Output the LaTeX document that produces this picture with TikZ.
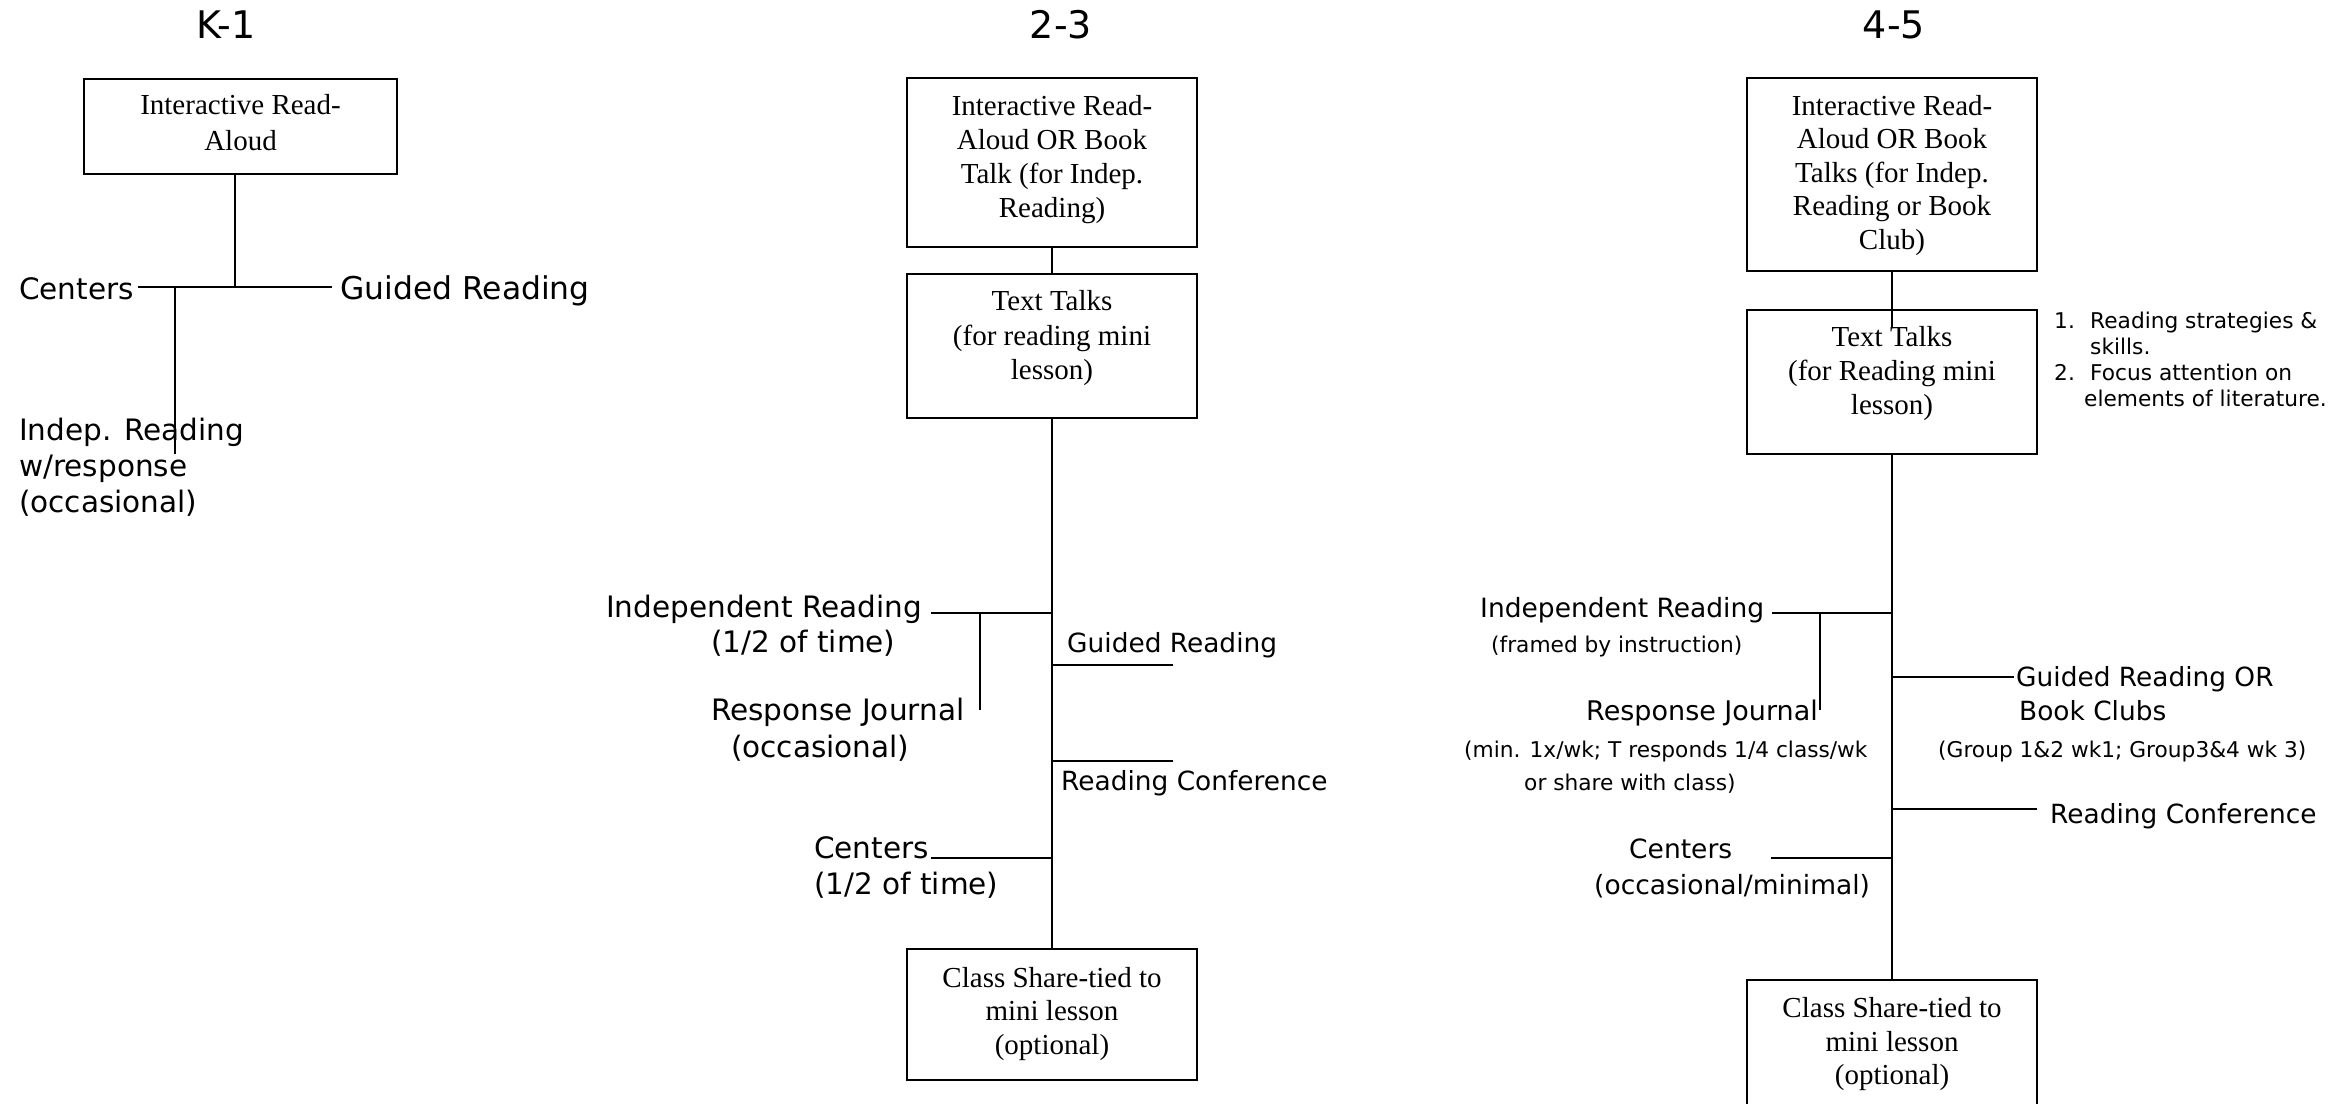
\documentclass[tikz,border=0pt]{standalone}
\usepackage{fontspec}
\setmainfont{DejaVu Sans}
\newfontfamily\tmsfont{Liberation Serif}
\begin{document}
\begin{tikzpicture}[x=1pt,y=-1pt,
  ttl/.style={font=\fontsize{38}{44}\selectfont, anchor=base, inner sep=0pt},
  btx/.style={font=\tmsfont\fontsize{29}{34}\selectfont, anchor=base, inner sep=0pt},
  lbA/.style={font=\fontsize{29.5}{35}\selectfont, anchor=base west, inner sep=0pt},
  lbG/.style={font=\fontsize{31.4}{37}\selectfont, anchor=base west, inner sep=0pt},
  lbB/.style={font=\fontsize{26.5}{31}\selectfont, anchor=base west, inner sep=0pt},
  lbS/.style={font=\fontsize{21.7}{26}\selectfont, anchor=base west, inner sep=0pt},
  boxst/.style={draw, line width=2.2pt, inner sep=0pt, outer sep=0pt},
  ln/.style={line width=2pt}]
\useasboundingbox (0,0) rectangle (2347,1103);
\clip (0,0) rectangle (2347,1103);

% ---------------- K-1 ----------------
\node[ttl] (k1title) at (226,38) {K-1};
\node[boxst, minimum width=313pt, minimum height=95pt] (k1box) at (240.5,126.5) {};
\node[btx] (k1t1) at (240.5,114) {Interactive Read-};
\node[btx] (k1t2) at (240.5,150) {Aloud};
\node[lbA] (k1cen) at (19,299) {Centers};
\node[lbG] (k1gr) at (340,299) {Guided Reading};
\node[lbA] (k1ir1) at (19,440) {Indep. Reading};
\node[lbA] (k1ir2) at (19,476) {w/response};
\node[lbA] (k1ir3) at (19,512) {(occasional)};
\coordinate (k1j) at (235,287);
\coordinate (k1l) at (138,287);
\coordinate (k1r) at (332,287);
\coordinate (k1dj) at (175,287);
\coordinate (k1d) at (175,454);
\draw[ln] (k1box.south -| k1j) -- (k1j);
\draw[ln] (k1l) -- (k1r);
\draw[ln] (k1dj) -- (k1d);

% ---------------- 2-3 ----------------
\node[ttl] (m1title) at (1061,38) {2-3};
\node[boxst, minimum width=290pt, minimum height=169pt] (m1box) at (1052,162.5) {};
\node[btx] (m1a) at (1052,115) {Interactive Read-};
\node[btx] (m1b) at (1052,149) {Aloud OR Book};
\node[btx] (m1c) at (1052,183) {Talk (for Indep.};
\node[btx] (m1d) at (1052,217) {Reading)};
\node[boxst, minimum width=290pt, minimum height=144pt] (m2box) at (1052,346) {};
\node[btx] (m2a) at (1052,310) {Text Talks};
\node[btx] (m2b) at (1052,345) {(for reading mini};
\node[btx] (m2c) at (1052,379) {lesson)};
\node[boxst, minimum width=290pt, minimum height=131pt] (m3box) at (1052,1014.5) {};
\node[btx] (m3a) at (1052,987) {Class Share-tied to};
\node[btx] (m3b) at (1052,1020) {mini lesson};
\node[btx] (m3c) at (1052,1054) {(optional)};
\draw[ln] (m1box.south) -- (m2box.north);
\draw[ln] (m2box.south) -- (m3box.north);

\node[lbA] (m1ir) at (606,617) {Independent Reading};
\node[lbA] (m1irb) at (711,652) {(1/2 of time)};
\node[lbA] (m1rj) at (711,720) {Response Journal};
\node[lbA] (m1rjb) at (731,757) {(occasional)};
\coordinate (m1irl) at (931,613);
\coordinate (m1irr) at (1052,613);
\coordinate (m1rjt) at (980,613);
\coordinate (m1rjd) at (980,710);
\draw[ln] (m1irl) -- (m1irr);
\draw[ln] (m1rjt) -- (m1rjd);

\node[lbB, font=\fontsize{26.4}{31}\selectfont] (m1gr) at (1067,652) {Guided Reading};
\coordinate (m1grl) at (1052,665);
\coordinate (m1grr) at (1173,665);
\draw[ln] (m1grl) -- (m1grr);
\node[lbB, font=\fontsize{26.4}{31}\selectfont] (m1rc) at (1061,790) {Reading Conference};
\coordinate (m1rcl) at (1052,761);
\coordinate (m1rcr) at (1173,761);
\draw[ln] (m1rcl) -- (m1rcr);

\node[lbA] (m1cen) at (814,858) {Centers};
\node[lbA] (m1cenb) at (814,894) {(1/2 of time)};
\coordinate (m1cl) at (931,858);
\coordinate (m1cr) at (1052,858);
\draw[ln] (m1cl) -- (m1cr);

% ---------------- 4-5 ----------------
\node[ttl] (r1title) at (1894,38) {4-5};
\node[boxst, minimum width=290pt, minimum height=193pt] (r1box) at (1892,174.5) {};
\node[btx] (r1a) at (1892,115) {Interactive Read-};
\node[btx] (r1b) at (1892,148.5) {Aloud OR Book};
\node[btx] (r1c) at (1892,182) {Talks (for Indep.};
\node[btx] (r1d) at (1892,215.5) {Reading or Book};
\node[btx] (r1e) at (1892,249) {Club)};
\node[boxst, minimum width=290pt, minimum height=144pt] (r2box) at (1892,382) {};
\node[btx] (r2a) at (1892,346) {Text Talks};
\node[btx] (r2b) at (1892,380) {(for Reading mini};
\node[btx] (r2c) at (1892,414) {lesson)};
\node[boxst, minimum width=290pt, minimum height=140pt] (r3box) at (1892,1050) {};
\node[btx] (r3a) at (1892,1017) {Class Share-tied to};
\node[btx] (r3b) at (1892,1051) {mini lesson};
\node[btx] (r3c) at (1892,1084) {(optional)};
\coordinate (r2in) at (1892,327);
\draw[ln] (r1box.south) -- (r2in);
\draw[ln] (r2box.south) -- (r3box.north);

\node[lbS] (r2n1) at (2054,328) {1.};
\node[lbS] (r2l1) at (2090,328) {Reading strategies \&};
\node[lbS] (r2l2) at (2090,354) {skills.};
\node[lbS] (r2n2) at (2054,380) {2.};
\node[lbS] (r2l3) at (2090,380) {Focus attention on};
\node[lbS] (r2l4) at (2084,406) {elements of literature.};

\node[lbB] (r1ir) at (1480,617) {Independent Reading};
\node[lbS] (r1irb) at (1491,652) {(framed by instruction)};
\node[lbB, font=\fontsize{27}{32}\selectfont] (r1rj) at (1586,720) {Response Journal};
\node[lbS] (r1rjb) at (1464,757) {(min. 1x/wk; T responds 1/4 class/wk};
\node[lbS] (r1rjc) at (1524,790) {or share with class)};
\coordinate (r1irl) at (1772,613);
\coordinate (r1irr) at (1892,613);
\coordinate (r1rjt) at (1820,613);
\coordinate (r1rjd) at (1820,710);
\draw[ln] (r1irl) -- (r1irr);
\draw[ln] (r1rjt) -- (r1rjd);

\node[lbB, font=\fontsize{26.4}{31}\selectfont] (r1gr) at (2016,686) {Guided Reading OR};
\node[lbB, font=\fontsize{26.4}{31}\selectfont] (r1grb) at (2019,720) {Book Clubs};
\node[lbS] (r1grc) at (1938,757) {(Group 1\&2 wk1; Group3\&4 wk 3)};
\coordinate (r1grl) at (1892,677);
\coordinate (r1grr) at (2014,677);
\draw[ln] (r1grl) -- (r1grr);

\node[lbB, font=\fontsize{26.4}{31}\selectfont] (r1rc) at (2050,823) {Reading Conference};
\coordinate (r1rcl) at (1892,809);
\coordinate (r1rcr) at (2037,809);
\draw[ln] (r1rcl) -- (r1rcr);

\node[lbB] (r1cen) at (1629,858) {Centers};
\node[lbB] (r1cenb) at (1594,894) {(occasional/minimal)};
\coordinate (r1cl) at (1771,858);
\coordinate (r1cr) at (1892,858);
\draw[ln] (r1cl) -- (r1cr);
\end{tikzpicture}
\end{document}
